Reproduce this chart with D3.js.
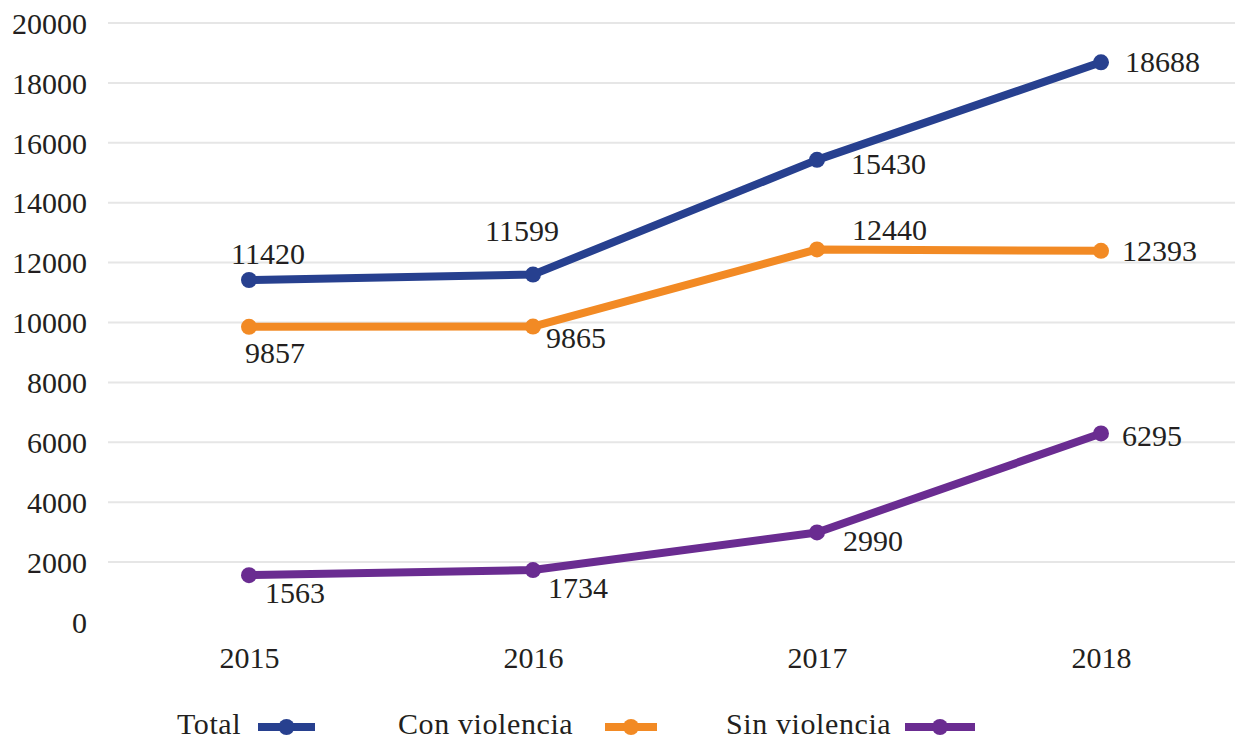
<!DOCTYPE html>
<html><head><meta charset="utf-8">
<script src="https://cdn.jsdelivr.net/npm/d3@7"></script>
<style>body{margin:0;background:#fff}svg{display:block}text{font-family:"Liberation Serif","DejaVu Serif",serif;fill:#231f20}</style>
</head><body><svg id="c" width="1235" height="742"></svg>
<script>
const years = ["2015","2016","2017","2018"];
const seriesNames = ["Total","Con violencia","Sin violencia"];
const totalValues = [11420, 11599, 15430, 18688];
const conViolenciaValues = [9857, 9865, 12440, 12393];
const sinViolenciaValues = [1563, 1734, 2990, 6295];
const yTicks = [0,2000,4000,6000,8000,10000,12000,14000,16000,18000,20000];

const colors = ["#27408f","#f28a24","#6a2c91"];
// label offsets [dx, dy, anchor] per series per point
const labelOffsets = [
  [[19,-16,"middle"],[-11,-34,"middle"],[34,14,"start"],[24,10,"start"]],
  [[26,36,"middle"],[13,21,"start"],[35,-9,"start"],[21,10,"start"]],
  [[16,28,"start"],[15,28,"start"],[26,19,"start"],[21,13,"start"]]
];
const series = [totalValues, conViolenciaValues, sinViolenciaValues];

const svg = d3.select("#c");
const x = d3.scalePoint().domain(years).range([107,1243]).padding(0.5);
const y = d3.scaleLinear().domain([0,20000]).range([622,23]);
const fs = 30;

// gridlines
svg.append("g").selectAll("line").data(yTicks.filter(t=>t>0)).join("line")
  .attr("x1",108).attr("x2",1235).attr("y1",d=>y(d)).attr("y2",d=>y(d))
  .attr("stroke","#e6e6e6").attr("stroke-width",2);

// y axis
const ya = svg.append("g").attr("transform","translate(94,0)")
  .call(d3.axisLeft(y).tickValues(yTicks).tickSize(0).tickPadding(7).tickFormat(d3.format("d")));
ya.select(".domain").remove();
ya.selectAll("text").attr("font-size",fs).attr("dy","0.34em").style("font-family",'"Liberation Serif",serif').attr("fill","#231f20");

// x axis
const xa = svg.append("g").attr("transform","translate(0,639)")
  .call(d3.axisBottom(x).tickSize(0).tickPadding(8));
xa.select(".domain").remove();
xa.selectAll("text").attr("font-size",fs).attr("dy","0.71em").style("font-family",'"Liberation Serif",serif').attr("fill","#231f20");

const line = d3.line().x((d,i)=>x(years[i])).y(d=>y(d));
series.forEach((vals,si)=>{
  const g = svg.append("g");
  g.append("path").datum(vals).attr("d",line).attr("fill","none")
    .attr("stroke",colors[si]).attr("stroke-width",8).attr("stroke-linejoin","round");
  g.selectAll("circle").data(vals).join("circle")
    .attr("cx",(d,i)=>x(years[i])).attr("cy",d=>y(d)).attr("r",8).attr("fill",colors[si]);
  g.selectAll("text").data(vals).join("text")
    .attr("x",(d,i)=>x(years[i])+labelOffsets[si][i][0])
    .attr("y",(d,i)=>y(d)+labelOffsets[si][i][1])
    .attr("text-anchor",(d,i)=>labelOffsets[si][i][2])
    .attr("font-size",fs).text(d=>d);
});

// legend
const legendItems = [
  {tx:177, lx1:258, lx2:315},
  {tx:398, lx1:605, lx2:657},
  {tx:726, lx1:905, lx2:975}
];
const ly = 727;
legendItems.forEach((it,i)=>{
  svg.append("text").attr("x",it.tx).attr("y",ly+7).attr("font-size",30)
    .attr("letter-spacing",0.6).text(seriesNames[i]);
  svg.append("line").attr("x1",it.lx1).attr("x2",it.lx2).attr("y1",ly).attr("y2",ly)
    .attr("stroke",colors[i]).attr("stroke-width",8);
  svg.append("circle").attr("cx",(it.lx1+it.lx2)/2).attr("cy",ly).attr("r",8).attr("fill",colors[i]);
});
</script></body></html>
